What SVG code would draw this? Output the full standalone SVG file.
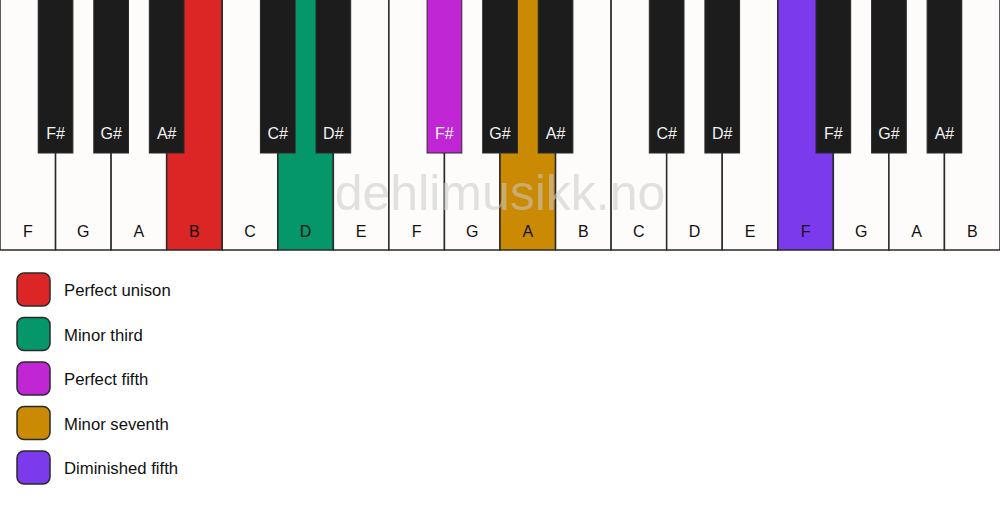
<svg xmlns="http://www.w3.org/2000/svg" width="1000" height="506" viewBox="0 0 1000 506">
<style>
.w{fill:#fdfcfa;stroke:#2a2a2a;stroke-width:1.5}
.b{fill:#1c1c1c;stroke:#2a2a2a;stroke-width:1}
.wl{font-family:"Liberation Sans",Arial,sans-serif;font-size:16px;fill:#111;text-anchor:middle}
.bl{font-family:"Liberation Sans",Arial,sans-serif;font-size:16px;fill:#f2f2f2;text-anchor:middle}
.lg{stroke:#2a2a2a;stroke-width:1.5}
.lt{font-family:"Liberation Sans",Arial,sans-serif;font-size:16.7px;fill:#111}
.wm{font-family:"Liberation Sans",Arial,sans-serif;font-size:50px;fill:#c8c8c8;fill-opacity:0.55;text-anchor:middle}
</style>
<rect width="1000" height="506" fill="#ffffff"/>
<g id="white-keys">
<g id="w0"><rect class="w" x="0" y="-2" width="55.56" height="252"/><text class="wl" x="27.78" y="237">F</text></g>
<g id="w1"><rect class="w" x="55.56" y="-2" width="55.56" height="252"/><text class="wl" x="83.33" y="237">G</text></g>
<g id="w2"><rect class="w" x="111.11" y="-2" width="55.56" height="252"/><text class="wl" x="138.89" y="237">A</text></g>
<g id="w3"><rect class="w" x="166.67" y="-2" width="55.56" height="252" style="fill:#dc2626"/><text class="wl" x="194.44" y="237">B</text></g>
<g id="w4"><rect class="w" x="222.22" y="-2" width="55.56" height="252"/><text class="wl" x="250" y="237">C</text></g>
<g id="w5"><rect class="w" x="277.78" y="-2" width="55.56" height="252" style="fill:#059669"/><text class="wl" x="305.56" y="237">D</text></g>
<g id="w6"><rect class="w" x="333.33" y="-2" width="55.56" height="252"/><text class="wl" x="361.11" y="237">E</text></g>
<g id="w7"><rect class="w" x="388.89" y="-2" width="55.56" height="252"/><text class="wl" x="416.67" y="237">F</text></g>
<g id="w8"><rect class="w" x="444.44" y="-2" width="55.56" height="252"/><text class="wl" x="472.22" y="237">G</text></g>
<g id="w9"><rect class="w" x="500" y="-2" width="55.56" height="252" style="fill:#ca8a04"/><text class="wl" x="527.78" y="237">A</text></g>
<g id="w10"><rect class="w" x="555.56" y="-2" width="55.56" height="252"/><text class="wl" x="583.33" y="237">B</text></g>
<g id="w11"><rect class="w" x="611.11" y="-2" width="55.56" height="252"/><text class="wl" x="638.89" y="237">C</text></g>
<g id="w12"><rect class="w" x="666.67" y="-2" width="55.56" height="252"/><text class="wl" x="694.44" y="237">D</text></g>
<g id="w13"><rect class="w" x="722.22" y="-2" width="55.56" height="252"/><text class="wl" x="750" y="237">E</text></g>
<g id="w14"><rect class="w" x="777.78" y="-2" width="55.56" height="252" style="fill:#7c3aed"/><text class="wl" x="805.56" y="237">F</text></g>
<g id="w15"><rect class="w" x="833.33" y="-2" width="55.56" height="252"/><text class="wl" x="861.11" y="237">G</text></g>
<g id="w16"><rect class="w" x="888.89" y="-2" width="55.56" height="252"/><text class="wl" x="916.67" y="237">A</text></g>
<g id="w17"><rect class="w" x="944.44" y="-2" width="55.56" height="252"/><text class="wl" x="972.22" y="237">B</text></g>
</g>
<g id="black-keys">
<g id="b0"><rect class="b" x="38.2" y="-2" width="34.7" height="155"/><text class="bl" x="55.56" y="139">F#</text></g>
<g id="b1"><rect class="b" x="93.8" y="-2" width="34.7" height="155"/><text class="bl" x="111.11" y="139">G#</text></g>
<g id="b2"><rect class="b" x="149.3" y="-2" width="34.7" height="155"/><text class="bl" x="166.67" y="139">A#</text></g>
<g id="b3"><rect class="b" x="260.4" y="-2" width="34.7" height="155"/><text class="bl" x="277.78" y="139">C#</text></g>
<g id="b4"><rect class="b" x="316" y="-2" width="34.7" height="155"/><text class="bl" x="333.33" y="139">D#</text></g>
<g id="b5"><rect class="b" x="427.1" y="-2" width="34.7" height="155" style="fill:#c026d3"/><text class="bl" x="444.44" y="139">F#</text></g>
<g id="b6"><rect class="b" x="482.7" y="-2" width="34.7" height="155"/><text class="bl" x="500" y="139">G#</text></g>
<g id="b7"><rect class="b" x="538.2" y="-2" width="34.7" height="155"/><text class="bl" x="555.56" y="139">A#</text></g>
<g id="b8"><rect class="b" x="649.3" y="-2" width="34.7" height="155"/><text class="bl" x="666.67" y="139">C#</text></g>
<g id="b9"><rect class="b" x="704.9" y="-2" width="34.7" height="155"/><text class="bl" x="722.22" y="139">D#</text></g>
<g id="b10"><rect class="b" x="816" y="-2" width="34.7" height="155"/><text class="bl" x="833.33" y="139">F#</text></g>
<g id="b11"><rect class="b" x="871.6" y="-2" width="34.7" height="155"/><text class="bl" x="888.89" y="139">G#</text></g>
<g id="b12"><rect class="b" x="927.1" y="-2" width="34.7" height="155"/><text class="bl" x="944.44" y="139">A#</text></g>
</g>
<text id="watermark" class="wm" x="500" y="210">dehlimusikk.no</text>
<g id="legend">
<g id="l0"><rect class="lg" x="17" y="273" width="33" height="33" rx="7" fill="#dc2626"/><text class="lt" x="64" y="296">Perfect unison</text></g>
<g id="l1"><rect class="lg" x="17" y="317.5" width="33" height="33" rx="7" fill="#059669"/><text class="lt" x="64" y="340.5">Minor third</text></g>
<g id="l2"><rect class="lg" x="17" y="362" width="33" height="33" rx="7" fill="#c026d3"/><text class="lt" x="64" y="385">Perfect fifth</text></g>
<g id="l3"><rect class="lg" x="17" y="406.5" width="33" height="33" rx="7" fill="#ca8a04"/><text class="lt" x="64" y="429.5">Minor seventh</text></g>
<g id="l4"><rect class="lg" x="17" y="451" width="33" height="33" rx="7" fill="#7c3aed"/><text class="lt" x="64" y="474">Diminished fifth</text></g>
</g>
</svg>
